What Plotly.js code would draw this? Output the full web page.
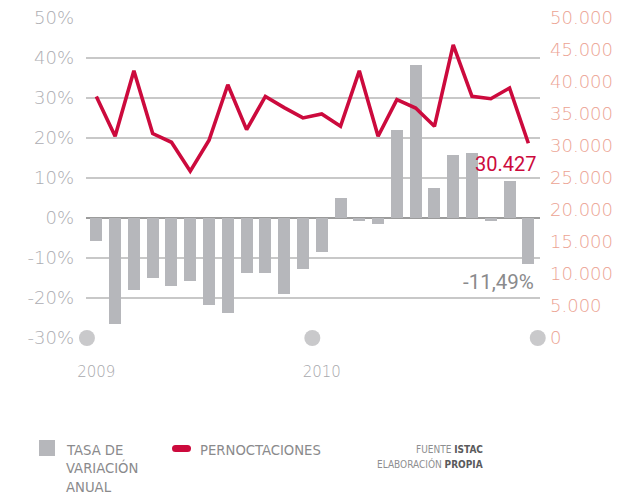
<!DOCTYPE html>
<html>
<head>
<meta charset="utf-8">
<script src="https://cdn.plot.ly/plotly-3.0.1.min.js"></script>
<style>html,body{margin:0;padding:0;background:#fff;}#chart{width:632px;height:496px;}</style>
</head>
<body>
<div id="chart"></div>
<script>
// ---- data ----
var months = ['2009-01','2009-02','2009-03','2009-04','2009-05','2009-06','2009-07','2009-08','2009-09','2009-10','2009-11','2009-12',
              '2010-01','2010-02','2010-03','2010-04','2010-05','2010-06','2010-07','2010-08','2010-09','2010-10','2010-11','2010-12'];
var tasaVariacion = [-5.7,-26.5,-17.9,-15.1,-16.9,-15.7,-21.7,-23.8,-13.7,-13.7,-18.9,-12.8,
                     -8.4,5.0,-0.8,-1.5,22.0,38.2,7.5,15.8,16.2,-0.8,9.2,-11.49];
var pernoctaciones = [37750,31520,41750,31940,30580,26070,30900,39570,32560,37750,36000,34390,
                      35000,33080,41750,31520,37240,35940,33080,45800,37750,37390,39060,30427];
var yearLabels = ['2009','2010'];
var yearTickIdx = [0,12];
var yearBoundaries = [-0.5,11.5,23.5];
var leftTicks = [-30,-20,-10,0,10,20,30,40,50];
var leftTickText = ['-30%','-20%','-10%','0%','10%','20%','30%','40%','50%'];
var rightTicks = [0,5000,10000,15000,20000,25000,30000,35000,40000,45000,50000];
var rightTickText = ['0','5.000','10.000','15.000','20.000','25.000','30.000','35.000','40.000','45.000','50.000'];
var lastValueLabel = '30.427';
var lastRateLabel = '-11,49%';

// ---- layout helpers (pixel -> paper) ----
var L = 86, R = 540, T = 18, B = 338;
function px(x){ return (x - L) / (R - L); }
function py(y){ return (B - y) / (B - T); }

var idx = months.map(function(m,i){ return i; });
var cond = 'Roboto, "DejaVu Sans Condensed", sans-serif';
var legendFont = '"DejaVu Sans Condensed", sans-serif';
var crimson = '#cc0a3d';

var traces = [
  {type:'bar', x: idx, y: tasaVariacion, width: 0.64, marker:{color:'#b6b7bb'}, yaxis:'y', hoverinfo:'none'},
  {type:'scatter', mode:'markers', x: yearBoundaries, y: yearBoundaries.map(function(){return -30;}), yaxis:'y',
   marker:{size:16, color:'#c9c9cb'}, cliponaxis:false, hoverinfo:'none'},
  {type:'scatter', mode:'lines', x: idx, y: pernoctaciones, yaxis:'y2', line:{color:crimson, width:3.6}, cliponaxis:false, hoverinfo:'none'}
];

var layout = {
  width: 632, height: 496,
  margin: {l: L, r: 632 - R, t: T, b: 496 - B, pad: 0},
  paper_bgcolor: '#fff', plot_bgcolor: '#fff',
  showlegend: false,
  bargap: 0,
  xaxis: {range:[-0.55, 23.62], showgrid:false, zeroline:false, showline:false, ticks:'',
          tickmode:'array', tickvals: yearTickIdx, ticktext: yearLabels, ticklabelstandoff: 23,
          tickfont:{family:'"DejaVu Sans", sans-serif', size:15, color:'#a8a8ac', weight:300}},
  yaxis: {range:[-30,50], tickmode:'array', tickvals:leftTicks, ticktext:leftTickText,
          showgrid:true, gridcolor:'#c8c8c8', gridwidth:1.5, zeroline:true, zerolinecolor:'#9c9c9c', zerolinewidth:1.5,
          showline:false, ticks:'', ticklabelstandoff: 11,
          tickfont:{family:'"DejaVu Sans", sans-serif', size:18, color:'#adadb2', weight:300}},
  yaxis2: {range:[0,50000], overlaying:'y', side:'right', showgrid:false, zeroline:false, showline:false, ticks:'',
           tickmode:'array', tickvals:rightTicks, ticktext:rightTickText, ticklabelstandoff: 9,
           tickfont:{family:'"DejaVu Sans", sans-serif', size:18, color:'#eca393', weight:300}},
  shapes: [
    {type:'rect', xref:'paper', yref:'paper', x0:px(39), x1:px(55), y0:py(440), y1:py(456), fillcolor:'#b6b7bb', line:{width:0}},
    {type:'rect', xref:'paper', yref:'paper', x0:px(175.5), x1:px(187.5), y0:py(445), y1:py(452), fillcolor:crimson, line:{width:0}},
    {type:'circle', xref:'paper', yref:'paper', x0:px(172), x1:px(179), y0:py(445), y1:py(452), fillcolor:crimson, line:{width:0}},
    {type:'circle', xref:'paper', yref:'paper', x0:px(184), x1:px(191), y0:py(445), y1:py(452), fillcolor:crimson, line:{width:0}}
  ],
  annotations: [
    {xref:'paper', yref:'paper', x:px(538), y:py(164), xanchor:'right', yanchor:'middle', showarrow:false,
     text:lastValueLabel, font:{family:cond, size:20, color:crimson}},
    {xref:'paper', yref:'paper', x:px(536), y:py(282), xanchor:'right', yanchor:'middle', showarrow:false,
     text:lastRateLabel, font:{family:cond, size:20.5, color:'#8a8a8c'}},
    {xref:'paper', yref:'paper', x:px(64), y:py(449), xanchor:'left', yanchor:'middle', showarrow:false,
     text:'TASA DE', font:{family:legendFont, size:14.7, color:'#8a8a8c'}},
    {xref:'paper', yref:'paper', x:px(64), y:py(467.5), xanchor:'left', yanchor:'middle', showarrow:false,
     text:'VARIACIÓN', font:{family:legendFont, size:14.7, color:'#8a8a8c'}},
    {xref:'paper', yref:'paper', x:px(64), y:py(486), xanchor:'left', yanchor:'middle', showarrow:false,
     text:'ANUAL', font:{family:legendFont, size:14.7, color:'#8a8a8c'}},
    {xref:'paper', yref:'paper', x:px(198), y:py(449), xanchor:'left', yanchor:'middle', showarrow:false,
     text:'PERNOCTACIONES', font:{family:legendFont, size:14.7, color:'#8a8a8c'}},
    {xref:'paper', yref:'paper', x:px(485), y:py(449), xanchor:'right', yanchor:'middle', showarrow:false,
     text:'FUENTE <b style="color:#5a5a5c">ISTAC</b>', font:{family:legendFont, size:10, color:'#8e8e90'}},
    {xref:'paper', yref:'paper', x:px(485), y:py(464), xanchor:'right', yanchor:'middle', showarrow:false,
     text:'ELABORACIÓN <b style="color:#5a5a5c">PROPIA</b>', font:{family:legendFont, size:10, color:'#8e8e90'}}
  ]
};

Plotly.newPlot('chart', traces, layout, {staticPlot:true, displayModeBar:false});
</script>
</body>
</html>
